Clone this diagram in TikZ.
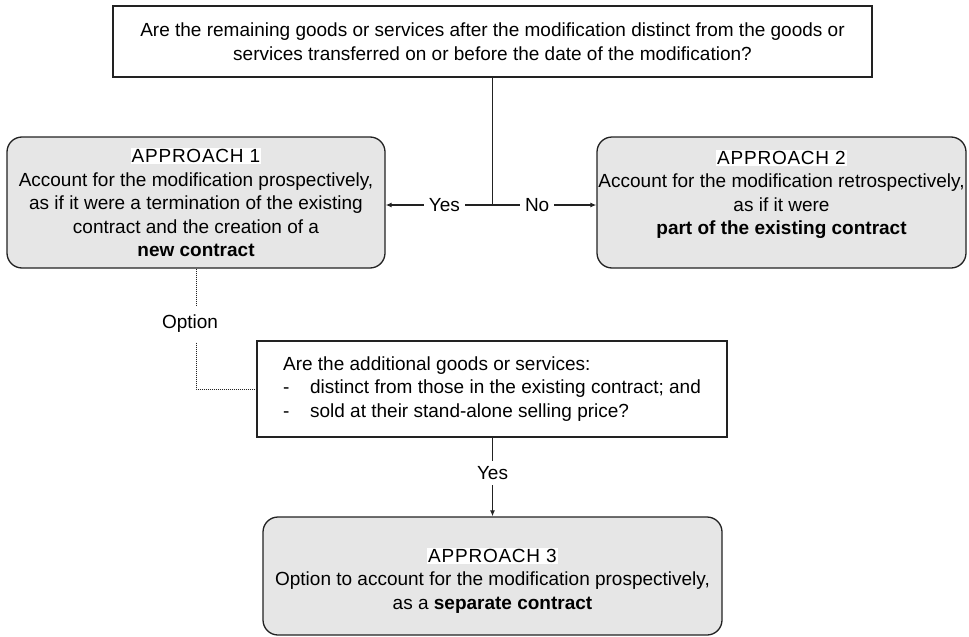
\documentclass[tikz,border=0pt]{standalone}
\usepackage{fontspec}
\setmainfont{Liberation Sans}
\usetikzlibrary{arrows.meta}
\definecolor{boxgray}{HTML}{E6E6E6}
\definecolor{linec}{HTML}{222222}
\newcommand{\apl}[1]{{\setlength{\fboxsep}{1.2pt}\colorbox{white}{\addfontfeature{LetterSpace=4}#1}}}
\tikzset{
  txt/.style={font=\fontsize{19}{23.5}\selectfont, text=black},
  qbox/.style={txt, draw=linec, line width=1.3pt, fill=white, inner sep=0pt},
  abox/.style={txt, draw=linec, line width=1.3pt, fill=boxgray, rounded corners=15pt, inner sep=0pt, align=center},
  conn/.style={draw=linec, line width=1.3pt},
  arr/.style={conn, -{Latex[length=6pt,width=5pt]}},
  lbl/.style={txt, fill=white, inner xsep=5pt, inner ysep=2pt},
  dotl/.style={draw=linec, line width=1pt, dash pattern=on 1pt off 1pt},
}
\begin{document}
\begin{tikzpicture}[x=1pt,y=-1pt]
\useasboundingbox (0,0) rectangle (969,637);
\node[qbox, minimum width=759pt, minimum height=71pt, align=center] (q1) at (492.5,41.5)
  {Are the remaining goods or services after the modification distinct from the goods or\\services transferred on or before the date of the modification?};
\node[abox, minimum width=378pt, minimum height=131pt] (a1) at (196,202.5)
  {\apl{APPROACH 1}\\Account for the modification prospectively,\\as if it were a termination of the existing\\contract and the creation of a\\\textbf{new contract}};
\node[abox, minimum width=369pt, minimum height=131pt] (a2) at (781.5,202.5)
  {\apl{APPROACH 2}\\Account for the modification retrospectively,\\as if it were\\\textbf{part of the existing contract}\\[-10pt]\strut};
\node[qbox, minimum width=470pt, minimum height=96pt, align=left] (q2) at (492,389)
  {Are the additional goods or services:\\\makebox[27pt][l]{-}distinct from those in the existing contract; and\\\makebox[27pt][l]{-}sold at their stand-alone selling price?};
\node[abox, minimum width=459pt, minimum height=118pt] (a3) at (492.5,576)
  {\rule{0pt}{0pt}\\[0pt]\apl{APPROACH 3}\\Option to account for the modification prospectively,\\as a \textbf{separate contract}};
\coordinate (j) at (q1.south |- 0,205);
\draw[conn] (q1.south) -- (j);
\draw[arr] (j) -- node[lbl, pos=0.45] (yes1) {Yes} (a1.east |- j);
\draw[arr] (j) -- node[lbl, pos=0.43] (no1) {No} (a2.west |- j);
\draw[arr] (q2.south -| a3.north) -- node[lbl, pos=0.45, inner ysep=5pt] (yes2) {Yes} (a3.north);
\draw[dotl] (a1.south) |- node[lbl, pos=0.23, inner ysep=9pt, xshift=-6pt] (opt) {Option} (q2.west);
\end{tikzpicture}
\end{document}
